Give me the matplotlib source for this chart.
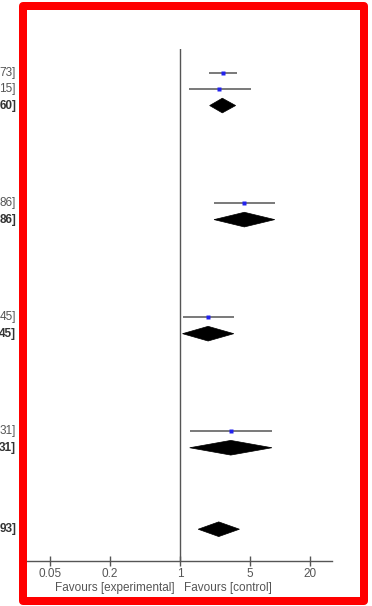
import matplotlib
matplotlib.use("Agg")
import matplotlib.pyplot as plt
from matplotlib.patches import Polygon, Rectangle

plt.rcParams['font.family'] = ['Liberation Sans', 'DejaVu Sans']

# single studies: odds ratio with 95% CI
study_est = [2.69, 2.45, 4.40, 1.91, 3.22]
study_lo = [1.95, 1.23, 2.19, 1.06, 1.25]
study_hi = [3.73, 5.15, 8.86, 3.45, 8.31]

# subgroup totals + overall (diamonds)
total_est = [2.65, 4.40, 1.91, 3.22, 2.44]
total_lo = [1.98, 2.19, 1.06, 1.25, 1.52]
total_hi = [3.60, 8.86, 3.45, 8.31, 3.93]

# what is left of the CI column after the crop
study_text = ['73]', '15]', '86]', '45]', '31]']
total_text = ['60]', '86]', '45]', '31]', '93]']

study_rows = [0, 1, 8, 15, 22]
total_rows = [2, 9, 16, 23, 28]

tick_vals = [0.05, 0.2, 1, 5, 20]
tick_labels = ['0.05', '0.2', '1', '5', '20']

W, H = 372, 606
fig = plt.figure(figsize=(W / 100, H / 100), dpi=100)

ax = fig.add_axes([27 / W, (H - 561) / H, (332 - 27) / W, (561 - 49) / H])
ax.set_xscale('log')
ax.set_xlim(10 ** -1.53, 10 ** 1.52)
ax.set_ylim(29.95, -1.47)

grey = '#555555'
ax.axvline(1, color=grey, lw=1)

for r, e, lo, hi in zip(study_rows, study_est, study_lo, study_hi):
    ax.plot([lo, hi], [r, r], color=grey, lw=1.1, solid_capstyle='butt')
    ax.plot(e, r, marker='s', ms=2.3, color='#2222ee', mec='none')

h = 0.45
for r, e, lo, hi in zip(total_rows, total_est, total_lo, total_hi):
    ax.add_patch(Polygon([(lo, r), (e, r - h), (hi, r), (e, r + h)],
                         closed=True, fc='black', ec='black', lw=0.5))

ax.set_xticks(tick_vals)
ax.set_xticklabels(tick_labels)
ax.minorticks_off()
ax.set_yticks([])
ax.tick_params(axis='x', direction='inout', length=7, width=1, color=grey,
               labelsize=8.5, labelcolor='#555555', pad=1.5)
for s in ['top', 'right', 'left']:
    ax.spines[s].set_visible(False)
ax.spines['bottom'].set_color(grey)
ax.spines['bottom'].set_linewidth(1)

xt = -11 / (332 - 27)
for r, t in zip(study_rows, study_text):
    ax.text(xt, r, t, transform=ax.get_yaxis_transform(), ha='right',
            va='center', fontsize=8.5, color='#555555')
for r, t in zip(total_rows, total_text):
    ax.text(xt, r, t, transform=ax.get_yaxis_transform(), ha='right',
            va='center', fontsize=8.5, color='#333333', fontweight='bold')

fig.text(175 / W, 1 - 588 / H, 'Favours [experimental]', ha='right',
         va='center', fontsize=8.5, color='#555555')
fig.text(184 / W, 1 - 588 / H, 'Favours [control]', ha='left',
         va='center', fontsize=8.5, color='#555555')

# red frame
fig.patches.append(Rectangle((23 / W, 1 - 601 / H), (364 - 23) / W, (601 - 6) / H,
                             transform=fig.transFigure, fill=False,
                             ec='#ff0000', lw=8 * 0.72, joinstyle='round'))

fig.savefig('out.png', dpi=100)
